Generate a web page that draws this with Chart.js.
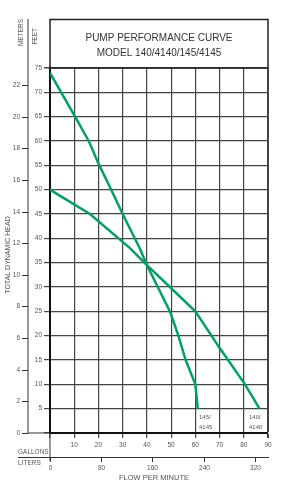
<!DOCTYPE html>
<html>
<head>
<meta charset="utf-8">
<script src="https://cdn.jsdelivr.net/npm/chart.js@4"></script>
<style>
  html, body { margin: 0; padding: 0; background: #fff; }
  canvas { display: block; }
</style>
</head>
<body>
<canvas id="pumpChart" width="288" height="496"></canvas>
<script>
// curve for model 145/4145 (flow in gallons per minute, head in feet)
var gallons145 = [0, 10, 16, 20, 26, 30, 37, 40, 45, 49.5, 53, 56, 60, 61];
var feet145 = [74, 65.3, 60, 55.4, 49.2, 45, 38, 34.5, 29.5, 25, 20, 15, 10, 5];

// curve for model 140/4140
var gallons140 = [0, 16.5, 33, 40, 49.5, 60, 70, 80.5, 86.5];
var feet140 = [50, 45, 38, 34.5, 30, 25, 17.5, 10, 5];

// secondary axes
var meterTicks = [0, 2, 4, 6, 8, 10, 12, 14, 16, 18, 20, 22];
var literTicks = [0, 80, 160, 240, 320];

// the printed meters scale is a little tighter than 3.28 ft/m
var FT_PER_M = 3.25;
var L_PER_GAL = 3.78541;
var green = '#00a06c';
var grey = '#555';
var fontName = '"Liberation Sans", Arial, sans-serif';

function toPoints(xs, ys) {
    return xs.map(function (v, i) { return { x: v, y: ys[i] }; });
}

// everything outside the grid: title box, meters / liters axes, captions
var extras = {
    id: 'extras',
    afterDraw: function (chart) {
        var ctx = chart.ctx;
        var x = chart.scales.x, y = chart.scales.y;
        var a = chart.chartArea;
        ctx.save();

        // title box
        ctx.strokeStyle = '#222';
        ctx.lineWidth = 1.5;
        ctx.strokeRect(a.left, 19.5, a.right - a.left, a.top - 19.5);
        ctx.fillStyle = '#333';
        ctx.font = '10px ' + fontName;
        ctx.textAlign = 'center';
        ctx.textBaseline = 'middle';
        var cx = (a.left + a.right) / 2;
        ctx.fillText('PUMP PERFORMANCE CURVE', cx, 38);
        ctx.fillText('MODEL 140/4140/145/4145', cx, 53);

        // meters axis
        ctx.strokeStyle = '#333';
        ctx.lineWidth = 1;
        ctx.beginPath();
        ctx.moveTo(28, 19);
        ctx.lineTo(28, a.bottom);
        ctx.lineTo(a.left, a.bottom);
        ctx.stroke();
        ctx.fillStyle = grey;
        ctx.font = '6.5px ' + fontName;
        ctx.textAlign = 'right';
        meterTicks.forEach(function (m) {
            var py = Math.round(y.getPixelForValue(m * FT_PER_M)) + 0.5;
            ctx.beginPath();
            ctx.moveTo(22, py);
            ctx.lineTo(28, py);
            ctx.stroke();
            ctx.fillText(String(m), 20, py);
        });

        // rotated axis captions
        ctx.font = '6.5px ' + fontName;
        ctx.save();
        ctx.translate(21, 19);
        ctx.rotate(-Math.PI / 2);
        ctx.textAlign = 'right';
        ctx.fillText('METERS', 0, 0);
        ctx.restore();
        ctx.save();
        ctx.translate(35, 28);
        ctx.rotate(-Math.PI / 2);
        ctx.textAlign = 'right';
        ctx.fillText('FEET', 0, 0);
        ctx.restore();
        ctx.save();
        ctx.translate(8, 255);
        ctx.rotate(-Math.PI / 2);
        ctx.textAlign = 'center';
        ctx.font = '7px ' + fontName;
        ctx.fillText('TOTAL DYNAMIC HEAD', 0, 0);
        ctx.restore();

        // gallons / liters rows
        ctx.textAlign = 'left';
        ctx.font = '6.5px ' + fontName;
        ctx.fillText('GALLONS', 18, 452);
        ctx.fillText('LITERS', 18, 463);
        ctx.beginPath();
        ctx.moveTo(18, 457.5);
        ctx.lineTo(a.right + 1, 457.5);
        ctx.moveTo(a.left, a.bottom);
        ctx.lineTo(a.left, 461);
        ctx.stroke();
        ctx.textAlign = 'center';
        literTicks.forEach(function (l) {
            var px = Math.round(x.getPixelForValue(l / L_PER_GAL)) + 0.5;
            ctx.beginPath();
            ctx.moveTo(px, 457.5);
            ctx.lineTo(px, 462);
            ctx.stroke();
            ctx.fillText(String(l), px, 468);
        });
        ctx.font = '7.5px ' + fontName;
        ctx.fillText('FLOW PER MINUTE', 154, 478);

        // curve names
        ctx.font = '6px ' + fontName;
        ctx.textAlign = 'left';
        ctx.fillText('145/', 199, 417);
        ctx.fillText('4145', 199, 427);
        ctx.fillText('140/', 249, 417);
        ctx.fillText('4140', 249, 427);

        ctx.restore();
    }
};

new Chart(document.getElementById('pumpChart'), {
    type: 'scatter',
    data: {
        datasets: [{
            label: '145/4145',
            data: toPoints(gallons145, feet145),
            showLine: true,
            borderColor: green,
            borderWidth: 2.5,
            pointRadius: 0,
            tension: 0
        }, {
            label: '140/4140',
            data: toPoints(gallons140, feet140),
            showLine: true,
            borderColor: green,
            borderWidth: 2.5,
            pointRadius: 0,
            tension: 0
        }]
    },
    options: {
        responsive: false,
        animation: false,
        layout: { padding: { top: 68, right: 20, left: 0, bottom: 0 } },
        plugins: { legend: { display: false }, tooltip: { enabled: false } },
        scales: {
            x: {
                type: 'linear',
                min: 0, max: 90,
                afterFit: function (s) { s.height = 63; },
                ticks: {
                    stepSize: 10,
                    padding: 3,
                    color: grey,
                    font: { family: fontName, size: 6.5 },
                    maxRotation: 0,
                    callback: function (v) { return v === 0 ? '' : v; }
                },
                grid: {
                    color: '#444',
                    tickColor: '#444',
                    tickLength: 5,
                    lineWidth: function (c) { return c.tick && c.tick.value === 90 ? 2 : 1.2; }
                },
                border: { display: true, color: '#111', width: 2 }
            },
            y: {
                type: 'linear',
                min: 0, max: 75,
                afterFit: function (s) { s.width = 50; },
                ticks: {
                    stepSize: 5,
                    padding: 2,
                    color: grey,
                    font: { family: fontName, size: 6.5 },
                    callback: function (v) { return v === 0 ? '' : v; }
                },
                grid: {
                    color: '#444',
                    tickColor: '#444',
                    tickLength: 6,
                    lineWidth: function (c) { return c.tick && c.tick.value === 75 ? 1.5 : 1.2; }
                },
                border: { display: true, color: '#111', width: 2 }
            }
        }
    },
    plugins: [extras]
});
</script>
</body>
</html>
